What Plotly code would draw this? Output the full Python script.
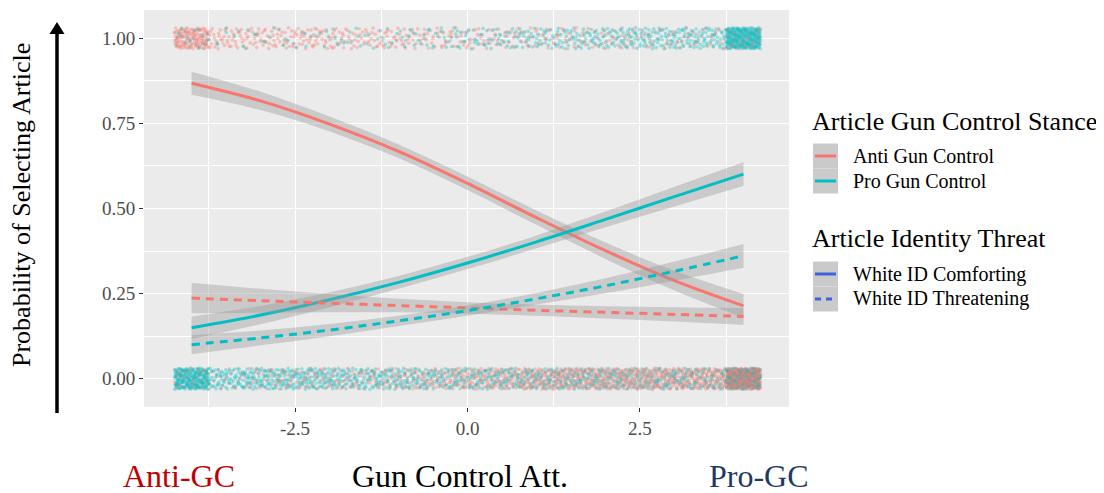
import plotly.graph_objects as go

# ---------------- data ----------------
att_x = [-4, -3, -2, -1, 0, 1, 2, 3, 4]

anti_comf = [0.868, 0.816, 0.748, 0.668, 0.574, 0.473, 0.376, 0.288, 0.214]
anti_comf_lo = [0.834, 0.789, 0.726, 0.648, 0.554, 0.452, 0.352, 0.259, 0.179]
anti_comf_hi = [0.902, 0.843, 0.770, 0.688, 0.594, 0.494, 0.400, 0.317, 0.249]

pro_comf = [0.150, 0.187, 0.232, 0.283, 0.340, 0.402, 0.468, 0.535, 0.601]
pro_comf_lo = [0.117, 0.160, 0.210, 0.264, 0.322, 0.383, 0.445, 0.506, 0.566]
pro_comf_hi = [0.183, 0.214, 0.254, 0.302, 0.358, 0.421, 0.491, 0.564, 0.636]

anti_thr = [0.237, 0.229, 0.222, 0.215, 0.208, 0.201, 0.195, 0.189, 0.183]
anti_thr_lo = [0.192, 0.194, 0.195, 0.195, 0.191, 0.185, 0.177, 0.168, 0.158]
anti_thr_hi = [0.282, 0.264, 0.249, 0.235, 0.225, 0.217, 0.213, 0.210, 0.208]

pro_thr = [0.100, 0.120, 0.143, 0.170, 0.200, 0.235, 0.273, 0.316, 0.361]
pro_thr_lo = [0.072, 0.098, 0.125, 0.155, 0.185, 0.218, 0.251, 0.288, 0.326]
pro_thr_hi = [0.128, 0.142, 0.161, 0.185, 0.215, 0.252, 0.295, 0.344, 0.396]

# observed choices (count of responses per attitude bin)
bins = [-4.0, -3.5, -3.0, -2.5, -2.0, -1.5, -1.0, -0.5, 0.0,
        0.5, 1.0, 1.5, 2.0, 2.5, 3.0, 3.5, 4.0]
sel_anti = [130, 40, 38, 40, 38, 32, 32, 28, 28, 26, 24, 24, 22, 20, 18, 18, 45]
sel_pro = [20, 8, 8, 10, 10, 12, 15, 18, 25, 28, 35, 40, 45, 52, 55, 55, 280]
nosel_pro = [230, 70, 80, 80, 75, 65, 62, 58, 58, 60, 62, 66, 66, 62, 58, 56, 160]
nosel_anti = [45, 18, 28, 34, 34, 34, 44, 50, 65, 72, 88, 98, 102, 104, 104, 100, 340]

x_tickvals = [-2.5, 0.0, 2.5]
x_ticktext = ["-2.5", "0.0", "2.5"]
y_tickvals = [0.0, 0.25, 0.5, 0.75, 1.0]
y_ticktext = ["0.00", "0.25", "0.50", "0.75", "1.00"]

# ---------------- style ----------------
RED = "#F8766D"
TEAL = "#00BFC4"
BLUE = "#3D63DD"
FONT = "Liberation Serif"
OFF = 8                      # page body margin
W, H = 1104 - OFF, 493 - OFF
PL, PR, PT, PB = 144, 789, 10, 407   # plot area in screen pixels

def px(x):
    return (x - PL) / (PR - PL)

def py(y):
    return (PB - y) / (PB - PT)

# deterministic jitter layout (Halton low-discrepancy sequence)
def halton(i, b):
    f, r = 1.0, 0.0
    while i > 0:
        f /= b
        r += f * (i % b)
        i //= b
    return r

JW, JH = 0.25, 0.031

def strip(counts_by_color, level, start):
    pts = []
    k = start
    for color, counts in counts_by_color:
        for c, n in zip(bins, counts):
            for i in range(n):
                k += 1
                u = halton(k, 2)
                w = halton(k, 3)
                pts.append((c + (u - 0.5) * 2 * JW, level + (w - 0.5) * 2 * JH, color))
    pts.sort(key=lambda p: (p[0] * 53.0) % 1.0)
    return [p[0] for p in pts], [p[1] for p in pts], [p[2] for p in pts]

RED_A = "rgba(248,118,109,0.36)"
TEAL_A = "rgba(0,191,196,0.36)"

fig = go.Figure()

for counts, level, start in [([(RED_A, sel_anti), (TEAL_A, sel_pro)], 1.0, 11),
                             ([(TEAL_A, nosel_pro), (RED_A, nosel_anti)], 0.0, 5011)]:
    xs, ys, cs = strip(counts, level, start)
    fig.add_trace(go.Scatter(x=xs, y=ys, mode="markers",
                             marker=dict(size=3.6, color=cs, line=dict(width=0)),
                             showlegend=False, hoverinfo="skip"))

BAND = "rgba(153,153,153,0.4)"
series = [
    (anti_comf, anti_comf_lo, anti_comf_hi, RED, "solid"),
    (pro_comf, pro_comf_lo, pro_comf_hi, TEAL, "solid"),
    (anti_thr, anti_thr_lo, anti_thr_hi, RED, "8px,6px"),
    (pro_thr, pro_thr_lo, pro_thr_hi, TEAL, "8px,6px"),
]
for mid, lo, hi, col, dash in series:
    fig.add_trace(go.Scatter(x=att_x, y=lo, mode="lines", line=dict(width=0, shape="spline"),
                             showlegend=False, hoverinfo="skip"))
    fig.add_trace(go.Scatter(x=att_x, y=hi, mode="lines", line=dict(width=0, shape="spline"),
                             fill="tonexty", fillcolor=BAND, showlegend=False, hoverinfo="skip"))
    fig.add_trace(go.Scatter(x=att_x, y=mid, mode="lines",
                             line=dict(color=col, width=3, dash=dash, shape="spline"),
                             showlegend=False, hoverinfo="skip"))

shapes = []
annotations = []

# arrow on the left
shapes.append(dict(type="line", xref="paper", yref="paper",
                   x0=px(57), x1=px(57), y0=py(413), y1=py(32),
                   line=dict(color="black", width=3.5)))
shapes.append(dict(type="path", xref="paper", yref="paper",
                   path=f"M {px(49.5)} {py(34)} L {px(64.5)} {py(34)} L {px(57)} {py(22)} Z",
                   fillcolor="black", line=dict(width=0)))

annotations.append(dict(text="Probability of Selecting Article", xref="paper", yref="paper",
                        x=px(22), y=py(205), textangle=-90, showarrow=False,
                        font=dict(family=FONT, size=26, color="black"),
                        xanchor="center", yanchor="middle"))

# legend (manual, ggplot style)
KEY = "#CACACA"
def legend_group(title, ty, items):
    annotations.append(dict(text=title, xref="paper", yref="paper", x=px(810), y=py(ty),
                            showarrow=False, xanchor="left", yanchor="middle",
                            font=dict(family=FONT, size=26, color="black")))
    for (label, col, dash, cy) in items:
        shapes.append(dict(type="rect", xref="paper", yref="paper",
                           x0=px(813), x1=px(838), y0=py(cy - 12.5), y1=py(cy + 12.5),
                           fillcolor=KEY, line=dict(width=0)))
        shapes.append(dict(type="line", xref="paper", yref="paper",
                           x0=px(815), x1=px(836), y0=py(cy), y1=py(cy),
                           line=dict(color=col, width=3, dash=dash)))
        annotations.append(dict(text=label, xref="paper", yref="paper", x=px(851), y=py(cy),
                                showarrow=False, xanchor="left", yanchor="middle",
                                font=dict(family=FONT, size=20, color="black")))

legend_group("Article Gun Control Stance", 121,
             [("Anti Gun Control", RED, "solid", 156),
              ("Pro Gun Control", TEAL, "solid", 181)])
legend_group("Article Identity Threat", 238,
             [("White ID Comforting", BLUE, "solid", 274),
              ("White ID Threatening", BLUE, "6px,5px", 299)])

# bottom annotations
for text, cx, col in [("Anti-GC", 179, "#C00000"), ("Gun Control Att.", 460, "black"),
                      ("Pro-GC", 759, "#1F3864")]:
    annotations.append(dict(text=text, xref="paper", yref="paper", x=px(cx), y=py(476),
                            showarrow=False, xanchor="center", yanchor="middle",
                            font=dict(family=FONT, size=32, color=col)))

fig.update_layout(
    width=W, height=H,
    margin=dict(l=PL - OFF, r=W - (PR - OFF), t=PT - OFF, b=H - (PB - OFF), pad=0),
    paper_bgcolor="white", plot_bgcolor="#EBEBEB",
    showlegend=False,
    shapes=shapes, annotations=annotations,
    font=dict(family=FONT),
)
fig.update_xaxes(range=[-4.69, 4.66], tickvals=x_tickvals, ticktext=x_ticktext,
                 showgrid=True, gridcolor="white", gridwidth=1.2, zeroline=False,
                 ticks="outside", ticklen=4, tickcolor="#333333", tickwidth=1,
                 tickfont=dict(family=FONT, size=19, color="#4D4D4D"),
                 minor=dict(tickvals=[-3.75, -1.25, 1.25, 3.75], showgrid=True,
                            gridcolor="white", gridwidth=0.6, ticks=""),
                 showline=False)
fig.update_yaxes(range=[-0.083, 1.083], tickvals=y_tickvals, ticktext=y_ticktext,
                 showgrid=True, gridcolor="white", gridwidth=1.2, zeroline=False,
                 ticks="outside", ticklen=4, tickcolor="#333333", tickwidth=1,
                 tickfont=dict(family=FONT, size=19, color="#4D4D4D"),
                 minor=dict(tickvals=[0.125, 0.375, 0.625, 0.875], showgrid=True,
                            gridcolor="white", gridwidth=0.6, ticks=""),
                 showline=False)

fig.write_html("out.html")
